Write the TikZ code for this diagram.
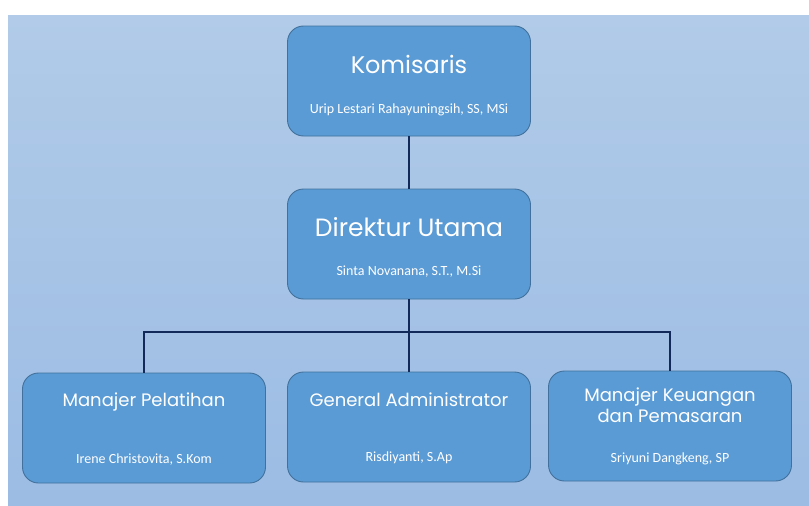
\documentclass[tikz,border=0pt]{standalone}
\usepackage{fontspec}
\setmainfont{Carlito}
\newfontfamily\titrefont{Poppins}
\usepackage{xcolor}
\definecolor{FondHaut}{HTML}{B1CBE8}
\definecolor{FondBas}{HTML}{9CBCE4}
\definecolor{BlocBleu}{HTML}{5B9BD5}
\definecolor{BlocBord}{HTML}{41719C}
\definecolor{LienBleu}{HTML}{122A5A}
\usepackage{tikz}
\usetikzlibrary{calc,positioning}

\tikzset{
	bloc/.style={draw=BlocBord, fill=BlocBleu, line width=0.9pt, rounded corners=16pt, minimum width=243pt, minimum height=110pt},
	titre/.style={text=white, font=\titrefont\fontsize{25}{29}\selectfont, align=center},
	soustitre/.style={text=white, font=\fontsize{14}{16}\selectfont},
	lien/.style={draw=LienBleu, line width=1.7pt}
}

\begin{document}
\begin{tikzpicture}[x=1pt, y=-1pt]
		% Fond
		\fill[white] (0,0) rectangle (809,506);
		\useasboundingbox (0,0) rectangle (809,506);
		\shade[top color=FondHaut, bottom color=FondBas] (8,15) rectangle (809,506);

		% Blocs de la hiérarchie
		\node[bloc] (kom) at (409,81) {};
		\node[bloc] (dir) at (409,244) {};
		\node[bloc] (pel) at (144,428) {};
		\node[bloc] (adm) at (409,427) {};
		\node[bloc] (keu) at (670,426) {};

		% Liaisons
		\coordinate (bus) at (406,332);
		\draw[lien] (kom.south) -- (dir.north);
		\draw[lien] (dir.south) -- (adm.north);
		\draw[lien] (pel.north) |- (bus) -| (keu.north);

		% Titres et noms
		\node[titre, font=\titrefont\fontsize{24}{28}\selectfont] (komT) at ([yshift=-39pt]kom.north) {Komisaris};
		\node[soustitre] (komN) at ([yshift=27pt]kom.south) {Urip Lestari Rahayuningsih, SS, MSi};
		\node[titre] (dirT) at ([yshift=-39pt]dir.north) {Direktur Utama};
		\node[soustitre] (dirN) at ([yshift=28pt]dir.south) {Sinta Novanana, S.T., M.Si};
		\node[titre, font=\titrefont\fontsize{18}{21}\selectfont] (pelT) at ([yshift=-29pt]pel.north) {Manajer Pelatihan};
		\node[soustitre] (pelN) at ([yshift=24pt]pel.south) {Irene Christovita, S.Kom};
		\node[titre, font=\titrefont\fontsize{18}{21}\selectfont] (admT) at ([yshift=-28pt]adm.north) {General Administrator};
		\node[soustitre] (admN) at ([yshift=25pt]adm.south) {Risdiyanti, S.Ap};
		\node[titre, font=\titrefont\fontsize{18}{21}\selectfont] (keuT) at ([yshift=-35pt]keu.north) {Manajer Keuangan\\dan Pemasaran};
		\node[soustitre] (keuN) at ([yshift=23pt]keu.south) {Sriyuni Dangkeng, SP};
	\end{tikzpicture}
\end{document}
